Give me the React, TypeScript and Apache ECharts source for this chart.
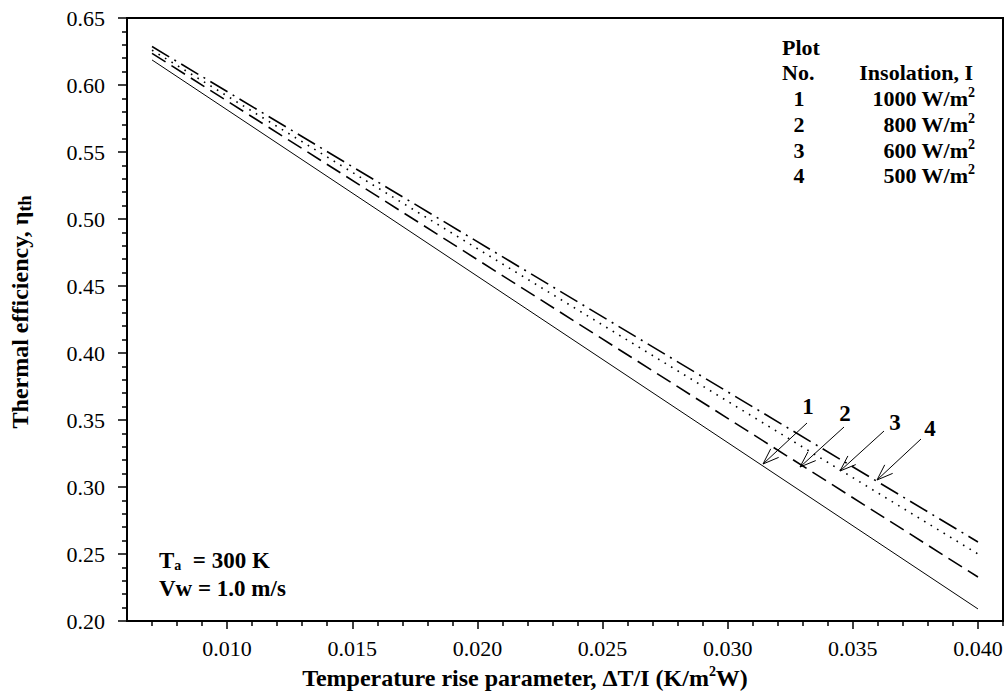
import React, { useEffect, useRef } from "react";
import * as echarts from "echarts";

const xValues = [0.007, 0.04];
const eta1000 = [0.6187, 0.209];
const eta800 = [0.6236, 0.2328];
const eta600 = [0.626, 0.25];
const eta500 = [0.6287, 0.259];

const xMajorTicks = [0.01, 0.015, 0.02, 0.025, 0.03, 0.035, 0.04];
const xMinorTicks = [
  0.007, 0.008, 0.009, 0.011, 0.012, 0.013, 0.014, 0.016, 0.017, 0.018, 0.019,
  0.021, 0.022, 0.023, 0.024, 0.026, 0.027, 0.028, 0.029, 0.031, 0.032, 0.033,
  0.034, 0.036, 0.037, 0.038, 0.039, 0.041,
];

const legendNos = ["1", "2", "3", "4"];
const legendValues = ["1000", "800", "600", "500"];

const FONT = "'Liberation Serif', 'Times New Roman', serif";

// annotation arrows: [label, labelX, labelY, tailX, tailY, tipX, tipY]
const arrows: [string, number, number, number, number, number, number][] = [
  ["1", 808, 406, 807, 423, 763, 464],
  ["2", 845, 413, 844, 427, 800, 467],
  ["3", 895, 422, 884, 431, 840, 471],
  ["4", 930, 428, 921, 439, 877, 480],
];

function arrowGraphics() {
  const els: any[] = [];
  arrows.forEach(([lab, lx, ly, tx, ty, hx, hy]) => {
    els.push({
      type: "text",
      style: { text: lab, x: lx, y: ly, align: "center", verticalAlign: "middle", font: `bold 23px ${FONT}`, fill: "#000" },
    });
    els.push({ type: "line", shape: { x1: tx, y1: ty, x2: hx, y2: hy }, style: { stroke: "#000", lineWidth: 1 } });
    const dx = tx - hx, dy = ty - hy;
    const len = Math.sqrt(dx * dx + dy * dy);
    const ux = dx / len, uy = dy / len;
    const a = 0.35, L = 17;
    const p1 = [hx + L * (ux * Math.cos(a) - uy * Math.sin(a)), hy + L * (ux * Math.sin(a) + uy * Math.cos(a))];
    const p2 = [hx + L * (ux * Math.cos(-a) - uy * Math.sin(-a)), hy + L * (ux * Math.sin(-a) + uy * Math.cos(-a))];
    els.push({ type: "polyline", shape: { points: [p1, [hx, hy], p2] }, style: { stroke: "#000", lineWidth: 1, fill: null } });
  });
  return els;
}

const richBase = {
  a: { font: `bold 22px ${FONT}`, fill: "#000", lineHeight: 25 },
  s: { font: `bold 14px ${FONT}`, fill: "#000", lineHeight: 15, verticalAlign: "top" },
  b: { font: `bold 14px ${FONT}`, fill: "#000", lineHeight: 15, verticalAlign: "bottom" },
};

export default function App() {
  const ref = useRef<HTMLDivElement>(null);
  useEffect(() => {
    if (!ref.current) return;
    const chart = echarts.init(ref.current, null, { renderer: "svg" });
    const mk = (ys: number[]) => xValues.map((x, i) => [x, ys[i]]);
    const legendRowsY = [98, 124, 150, 175];
    const graphics: any[] = [
      {
        type: "text",
        style: { text: "Plot", x: 782, y: 47, align: "left", verticalAlign: "middle", font: `bold 22px ${FONT}`, fill: "#000" },
      },
      {
        type: "text",
        style: { text: "No.", x: 782, y: 72, align: "left", verticalAlign: "middle", font: `bold 22px ${FONT}`, fill: "#000" },
      },
      {
        type: "text",
        style: { text: "Insolation, I", x: 973, y: 72, align: "right", verticalAlign: "middle", font: `bold 22px ${FONT}`, fill: "#000" },
      },
      ...legendNos.map((n, i) => ({
        type: "text",
        style: { text: n, x: 799, y: legendRowsY[i], align: "center", verticalAlign: "middle", font: `bold 22px ${FONT}`, fill: "#000" },
      })),
      ...legendValues.map((v, i) => ({
        type: "text",
        style: {
          text: `{a|${v} W/m}{s|2}`,
          rich: richBase,
          x: 975,
          y: legendRowsY[i],
          align: "right",
          verticalAlign: "middle",
        },
      })),
      {
        type: "text",
        style: {
          text: "{a|T}{b|a}{a|  = 300 K}",
          rich: { ...richBase, a: { ...richBase.a, font: `bold 23px ${FONT}` } },
          x: 159,
          y: 560,
          align: "left",
          verticalAlign: "middle",
        },
      },
      {
        type: "text",
        style: { text: "Vw = 1.0 m/s", x: 159, y: 588, align: "left", verticalAlign: "middle", font: `bold 23px ${FONT}`, fill: "#000" },
      },
      {
        type: "text",
        style: {
          text: "{a|Temperature rise parameter, ΔT/I (K/m}{s|2}{a|W)}",
          rich: { ...richBase, a: { ...richBase.a, font: `bold 24px ${FONT}`, lineHeight: 27 } },
          x: 525,
          y: 678,
          align: "center",
          verticalAlign: "middle",
        },
      },
      {
        type: "text",
        x: 20,
        y: 312,
        rotation: Math.PI / 2,
        style: {
          text: "{a|Thermal efficiency, η}{b|th}",
          rich: {
            ...richBase,
            a: { ...richBase.a, font: `bold 24px ${FONT}`, lineHeight: 27 },
            b: { ...richBase.b, font: `bold 18px ${FONT}`, lineHeight: 19 },
          },
          x: 0,
          y: 0,
          align: "center",
          verticalAlign: "middle",
        },
      },
      ...arrowGraphics(),
    ];
    chart.setOption({
      animation: false,
      backgroundColor: "#fff",
      grid: { left: 127, right: 4, top: 18, bottom: 74, show: true, borderColor: "#000", borderWidth: 2 },
      xAxis: [
        {
          type: "value",
          min: 0.006,
          max: 0.041,
          position: "bottom",
          axisLine: { lineStyle: { color: "#000", width: 2 } },
          axisTick: { customValues: xMajorTicks, length: 8, lineStyle: { color: "#000", width: 1.5 } },
          axisLabel: {
            customValues: xMajorTicks,
            formatter: (v: number) => v.toFixed(3),
            fontSize: 22,
            fontFamily: FONT,
            color: "#000",
            margin: 16,
          },
          splitLine: { show: false },
        },
        {
          type: "value",
          min: 0.006,
          max: 0.041,
          position: "bottom",
          axisLine: { show: false },
          axisTick: { customValues: xMinorTicks, length: 5, lineStyle: { color: "#000", width: 1.5 } },
          axisLabel: { show: false },
          splitLine: { show: false },
        },
      ],
      yAxis: {
        type: "value",
        min: 0.2,
        max: 0.65,
        interval: 0.05,
        axisLine: { show: true, lineStyle: { color: "#000", width: 2 } },
        axisTick: { show: true, length: 9, lineStyle: { color: "#000", width: 1.5 } },
        minorTick: { show: true, splitNumber: 5, length: 5, lineStyle: { color: "#000", width: 1.5 } },
        axisLabel: { formatter: (v: number) => v.toFixed(2), fontSize: 22, fontFamily: FONT, color: "#000", margin: 22 },
        splitLine: { show: false },
      },
      series: [
        { name: "1000", type: "line", data: mk(eta1000), symbol: "none", lineStyle: { color: "#000", width: 1 } },
        { name: "800", type: "line", data: mk(eta800), symbol: "none", lineStyle: { color: "#000", width: 1.6, type: [16, 7] } },
        { name: "600", type: "line", data: mk(eta600), symbol: "none", lineStyle: { color: "#000", width: 1.6, type: [1.6, 6] } },
        { name: "500", type: "line", data: mk(eta500), symbol: "none", lineStyle: { color: "#000", width: 1.6, type: [20, 6, 2, 6] } },
      ],
      graphic: graphics,
    });
    return () => chart.dispose();
  }, []);
  return <div ref={ref} style={{ position: "fixed", left: 0, top: 0, width: 1007, height: 695 }} />;
}
